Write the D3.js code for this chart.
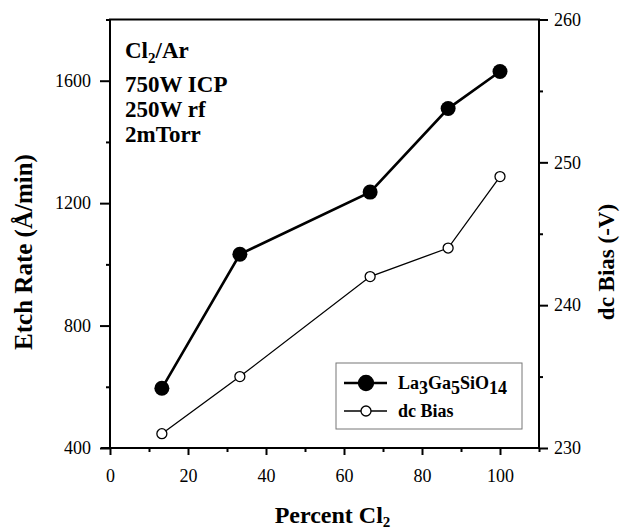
<!DOCTYPE html>
<html>
<head>
<meta charset="utf-8">
<script src="https://cdn.jsdelivr.net/npm/d3@7"></script>
<style>
	body { margin: 0; background: #fff; }
	svg { display: block; font-family: "Liberation Serif", "Times New Roman", serif; }
</style>
</head>
<body>
<svg id="chart" width="634" height="531"></svg>
<script>
// values
const percentCl2 = [13.3, 33.3, 66.7, 86.7, 100];
const etchRate = [595, 1033, 1236, 1509, 1630];
const dcBias = [231.0, 235.0, 242.0, 244.0, 249.0];

const xTicks = [0, 20, 40, 60, 80, 100];
const xMinor = [10, 30, 50, 70, 90, 110];
const yTicks = [400, 800, 1200, 1600];
const yMinor = [600, 1000, 1400, 1800];
const y2Ticks = [230, 240, 250, 260];
const y2Minor = [235, 245, 255];
const notes = ['750W ICP', '250W rf', '2mTorr'];

const svg = d3.select('#chart');
const margin = { top: 19.5, right: 95, bottom: 83, left: 110 };
const width = 634, height = 531;

const x = d3.scaleLinear([0, 110], [margin.left, width - margin.right]);
const y = d3.scaleLinear([400, 1800], [height - margin.bottom, margin.top]);
const y2 = d3.scaleLinear([230, 260], [height - margin.bottom, margin.top]);

const ax = svg.append('g').attr('class', 'axes');

function styleAxis (g) {
	g.attr('font-family', '"Liberation Serif", "Times New Roman", serif')
		.attr('font-size', 18);
	g.select('.domain').remove();
	g.selectAll('line').attr('stroke', '#000').attr('stroke-width', 2);
	g.selectAll('text').attr('fill', '#000');
}

// bottom
ax.append('g')
	.attr('transform', `translate(0,${y.range()[0]})`)
	.call(d3.axisBottom(x).tickValues(xTicks).tickSize(7).tickPadding(14))
	.call(styleAxis);
ax.append('g')
	.attr('transform', `translate(0,${y.range()[0]})`)
	.call(d3.axisBottom(x).tickValues(xMinor).tickSize(4).tickFormat(''))
	.call(styleAxis);

// left
ax.append('g')
	.attr('transform', `translate(${x.range()[0]},0)`)
	.call(d3.axisLeft(y).tickValues(yTicks).tickSize(10).tickPadding(9).tickFormat(d3.format('d')))
	.call(styleAxis);
ax.append('g')
	.attr('transform', `translate(${x.range()[0]},0)`)
	.call(d3.axisLeft(y).tickValues(yMinor).tickSize(4).tickFormat(''))
	.call(styleAxis);

// right
ax.append('g')
	.attr('transform', `translate(${x.range()[1]},0)`)
	.call(d3.axisRight(y2).tickValues(y2Ticks).tickSize(9).tickPadding(6))
	.call(styleAxis);
ax.append('g')
	.attr('transform', `translate(${x.range()[1]},0)`)
	.call(d3.axisRight(y2).tickValues(y2Minor).tickSize(4).tickFormat(''))
	.call(styleAxis);

// frame
ax.append('path')
	.attr('d', `M${x.range()[0] - 9},${y.range()[0]} H${x.range()[1]} V${y.range()[1]} H${x.range()[0]} V${y.range()[0]}`)
	.attr('fill', 'none')
	.attr('stroke', '#000')
	.attr('stroke-width', 2);

// series
const etchPts = percentCl2.map((d, i) => [x(d), y(etchRate[i])]);
const biasPts = percentCl2.map((d, i) => [x(d), y2(dcBias[i])]);

svg.append('path')
	.attr('d', d3.line()(biasPts))
	.attr('fill', 'none').attr('stroke', '#000').attr('stroke-width', 1.3);
svg.selectAll('circle.bias').data(biasPts).join('circle')
	.attr('class', 'bias')
	.attr('cx', d => d[0]).attr('cy', d => d[1]).attr('r', 5)
	.attr('fill', '#fff').attr('stroke', '#000').attr('stroke-width', 1.3);

svg.append('path')
	.attr('d', d3.line()(etchPts))
	.attr('fill', 'none').attr('stroke', '#000').attr('stroke-width', 2.6);
svg.selectAll('circle.etch').data(etchPts).join('circle')
	.attr('class', 'etch')
	.attr('cx', d => d[0]).attr('cy', d => d[1]).attr('r', 7.5)
	.attr('fill', '#000');

// annotation
const ann = svg.append('g')
	.style('font-weight', 'bold').style('font-size', '23px');
const t0 = ann.append('text').attr('x', 125).attr('y', 58);
t0.append('tspan').text('Cl');
t0.append('tspan').attr('dy', 5).style('font-size', '15px').text('2');
t0.append('tspan').attr('dy', -5).text('/Ar');
ann.selectAll('text.note').data(notes).join('text')
	.attr('class', 'note')
	.attr('x', 125)
	.attr('y', (d, i) => 92 + i * 25)
	.text(d => d);

// axis titles
const xt = svg.append('text')
	.attr('x', (x.range()[0] + x.range()[1]) / 2 + 8)
	.attr('y', 523)
	.attr('text-anchor', 'middle')
	.style('font-weight', 'bold').style('font-size', '24px');
xt.append('tspan').text('Percent Cl');
xt.append('tspan').attr('dy', 4).style('font-size', '15px').text('2');

svg.append('text')
	.attr('transform', 'translate(32,252) rotate(-90)')
	.attr('text-anchor', 'middle')
	.style('font-weight', 'bold').style('font-size', '25px')
	.text('Etch Rate (Å/min)');

svg.append('text')
	.attr('transform', 'translate(614,262) rotate(-90)')
	.attr('text-anchor', 'middle')
	.style('font-weight', 'bold').style('font-size', '23px')
	.text('dc Bias (-V)');

// legend
const lg = svg.append('g').attr('transform', 'translate(336,363)');
lg.append('rect')
	.attr('width', 186).attr('height', 66)
	.attr('fill', '#fff').attr('stroke', '#777').attr('stroke-width', 1);

const legendItems = [
	{ r: 7.5, fill: '#000', sw: 2.6, y: 20 },
	{ r: 5, fill: '#fff', sw: 1.3, y: 48 },
];
lg.selectAll('line.key').data(legendItems).join('line')
	.attr('class', 'key')
	.attr('x1', 8).attr('x2', 51)
	.attr('y1', d => d.y).attr('y2', d => d.y)
	.attr('stroke', '#000').attr('stroke-width', d => d.sw);
lg.selectAll('circle.key').data(legendItems).join('circle')
	.attr('class', 'key')
	.attr('cx', 30).attr('cy', d => d.y).attr('r', d => d.r)
	.attr('fill', d => d.fill).attr('stroke', '#000').attr('stroke-width', 1.3);

const lt = lg.append('text').attr('x', 62).attr('y', 26)
	.style('font-weight', 'bold').style('font-size', '18px');
[['La', 0], ['3', 5], ['Ga', -5], ['5', 5], ['SiO', -5], ['14', 5]].forEach(([s, dy]) => {
	lt.append('tspan').attr('dy', dy).text(s);
});
lg.append('text').attr('x', 62).attr('y', 54)
	.style('font-weight', 'bold').style('font-size', '18px')
	.text('dc Bias');
</script>
</body>
</html>
